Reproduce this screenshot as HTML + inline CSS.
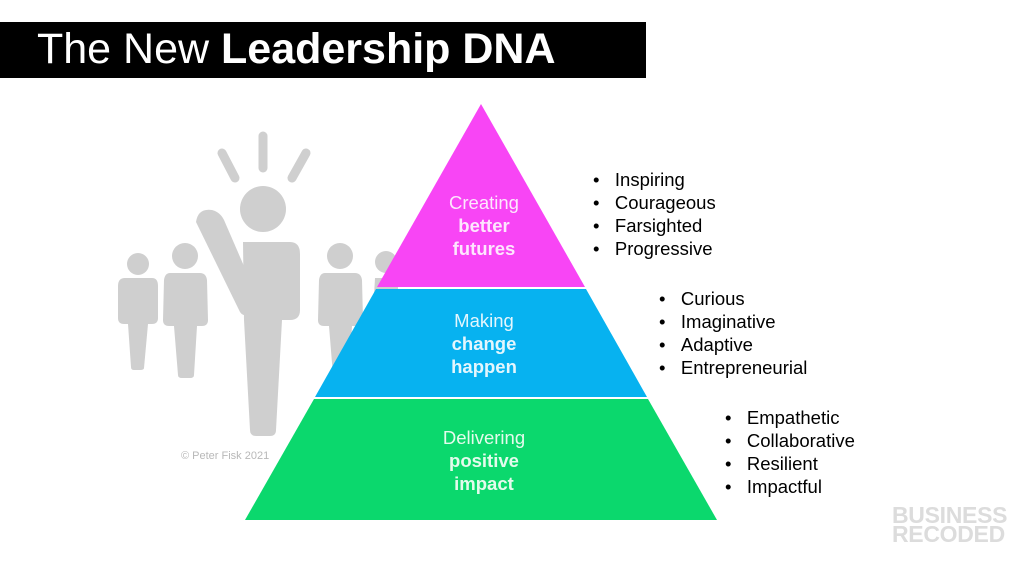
<!DOCTYPE html>
<html><head><meta charset="utf-8"><style>
html,body{margin:0;padding:0;background:#fff;}
body{width:1024px;height:568px;position:relative;overflow:hidden;font-family:"Liberation Sans",Arial,sans-serif;}
.t{position:absolute;white-space:nowrap;}
.l{font-size:18.5px;line-height:23px;color:#000;}
.p{left:394px;width:180px;text-align:center;font-size:18.5px;line-height:23px;}
</style></head><body>
<svg width="1024" height="568" style="position:absolute;left:0;top:0">
<rect x="0" y="22" width="646" height="56" fill="#000"/>
<g fill="#cfcfcf" stroke="none">
 <circle cx="138" cy="264" r="11"/>
 <path d="M125 278 H152 Q158 278 158 286 L158 318 Q158 324 152 324 H148 L144 368 Q144 370 140 370 H134 Q131 370 131 367 L128 324 H124 Q118 324 118 318 L118 286 Q118 278 125 278Z"/>
 <circle cx="185" cy="256" r="13"/>
 <path d="M170 273 H200 Q206 273 207 280 L208 320 Q208 326 202 326 H197 L194 375 Q194 378 190 378 H182 Q178 378 178 375 L174 326 H169 Q163 326 163 320 L164 280 Q165 273 170 273Z"/>
 <circle cx="340" cy="256" r="13"/>
 <path d="M325 273 H355 Q361 273 362 280 L363 320 Q363 326 357 326 H352 L349 375 Q349 378 345 378 H337 Q333 378 333 375 L329 326 H324 Q318 326 318 320 L319 280 Q320 273 325 273Z"/>
 <circle cx="386" cy="262" r="11"/>
 <path d="M375 278 H398 L398 330 H372 Z"/>
 <circle cx="263" cy="209" r="23"/>
 <path d="M243 242 H290 Q300 242 300 254 L300 310 Q300 320 290 320 L282 320 L276 430 Q276 436 270 436 H256 Q250 436 250 430 L244 320 Z"/>
 <path d="M196 222 Q198 208 212 210 Q220 212 224 220 L250 280 L250 312 Q244 318 240 312 Z"/>
 <line x1="263" y1="136" x2="263" y2="168" stroke="#cfcfcf" stroke-width="9" stroke-linecap="round"/>
 <line x1="222" y1="153" x2="235" y2="178" stroke="#cfcfcf" stroke-width="9" stroke-linecap="round"/>
 <line x1="306" y1="153" x2="292" y2="178" stroke="#cfcfcf" stroke-width="9" stroke-linecap="round"/>
</g>
<polygon points="481,104 585,287 377,287" fill="#f845f5"/>
<polygon points="376,289 586,289 647,397 315,397" fill="#07b2f0"/>
<polygon points="314,399 648,399 717,520 245,520" fill="#0bd86d"/>
</svg>
<div class="t" style="left:37px;top:25px;font-size:43px;color:#fff;">The New <b>Leadership DNA</b></div>
<div class="t" style="left:181px;top:450px;font-size:11px;color:#b8b8b8;">© Peter Fisk 2021</div>
<div class="t p" style="top:191px;color:#fde6fd;">Creating<br><b>better<br>futures</b></div>
<div class="t p" style="top:309px;color:#e4f6fd;">Making<br><b>change<br>happen</b></div>
<div class="t p" style="top:426px;color:#e4fbec;">Delivering<br><b>positive<br>impact</b></div>
<div class="t l" style="left:593px;top:168px;">•&nbsp;&nbsp;&nbsp;Inspiring<br>•&nbsp;&nbsp;&nbsp;Courageous<br>•&nbsp;&nbsp;&nbsp;Farsighted<br>•&nbsp;&nbsp;&nbsp;Progressive</div>
<div class="t l" style="left:659px;top:287px;">•&nbsp;&nbsp;&nbsp;Curious<br>•&nbsp;&nbsp;&nbsp;Imaginative<br>•&nbsp;&nbsp;&nbsp;Adaptive<br>•&nbsp;&nbsp;&nbsp;Entrepreneurial</div>
<div class="t l" style="left:725px;top:406px;">•&nbsp;&nbsp;&nbsp;Empathetic<br>•&nbsp;&nbsp;&nbsp;Collaborative<br>•&nbsp;&nbsp;&nbsp;Resilient<br>•&nbsp;&nbsp;&nbsp;Impactful</div>
<div class="t" style="left:892px;top:506px;font-size:23px;line-height:19px;color:#dcdcdc;font-weight:bold;letter-spacing:-0.3px;">BUSINESS<br>RECODED</div>
</body></html>
